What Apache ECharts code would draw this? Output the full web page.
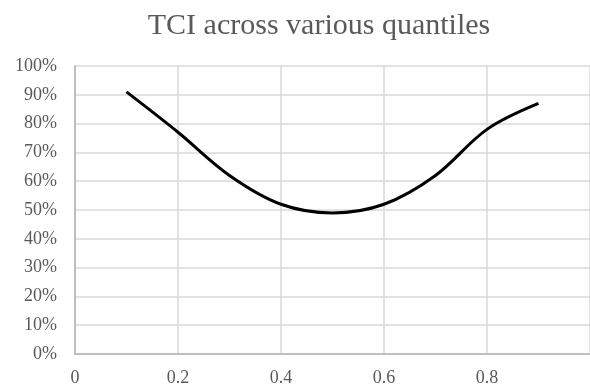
<!DOCTYPE html>
<html>
<head>
<meta charset="utf-8">
<script src="https://cdn.jsdelivr.net/npm/echarts@6/dist/echarts.min.js"></script>
<style>
  html, body { margin: 0; padding: 0; background: #fff; }
</style>
</head>
<body>
<div id="chart-tci" style="width: 590px; height: 387px;"></div>
<script>
const quantiles = [0.1, 0.2, 0.3, 0.4, 0.5, 0.6, 0.7, 0.8, 0.9];
const tciValues = [91, 77, 62, 52, 49, 52, 62, 78, 87];
const titleText = 'TCI across various quantiles';

const chartDom = document.getElementById('chart-tci');
const myChart = echarts.init(chartDom);

const option = {
  animation: false,
  backgroundColor: '#fff',
  title: {
    text: titleText,
    left: 314,
    top: 6,
    textAlign: 'center',
    textStyle: {
      fontFamily: 'Liberation Serif',
      fontSize: 30,
      fontWeight: 'normal',
      color: '#595959',
    },
  },
  grid: {
    left: 75,
    right: -4,
    top: 66,
    bottom: 31,
    containLabel: false,
  },
  xAxis: {
    type: 'value',
    min: 0,
    max: 1,
    interval: 0.2,
    axisLine: {
      show: true,
      onZero: false,
      lineStyle: { color: '#bfbfbf', width: 2 },
    },
    axisTick: { show: false },
    splitLine: {
      show: true,
      lineStyle: { color: '#d9d9d9', width: 1.5 },
    },
    axisLabel: {
      margin: 15,
      showMaxLabel: false,
      fontFamily: 'Liberation Serif',
      fontSize: 18,
      color: '#595959',
      formatter: (v) => String(Math.round(v * 10) / 10),
    },
  },
  yAxis: {
    type: 'value',
    min: 0,
    max: 100,
    interval: 10,
    axisLine: {
      show: true,
      lineStyle: { color: '#bfbfbf', width: 2 },
    },
    axisTick: { show: false },
    splitLine: {
      show: true,
      lineStyle: { color: '#d9d9d9', width: 1.5 },
    },
    axisLabel: {
      margin: 18,
      fontFamily: 'Liberation Serif',
      fontSize: 18,
      color: '#595959',
      formatter: '{value}%',
    },
  },
  series: [
    {
      name: 'TCI',
      type: 'line',
      smooth: 0.35,
      showSymbol: false,
      data: quantiles.map((q, i) => [q, tciValues[i]]),
      lineStyle: { color: '#000', width: 3 },
      itemStyle: { color: '#000' },
    },
  ],
};

option && myChart.setOption(option);
</script>
</body>
</html>
